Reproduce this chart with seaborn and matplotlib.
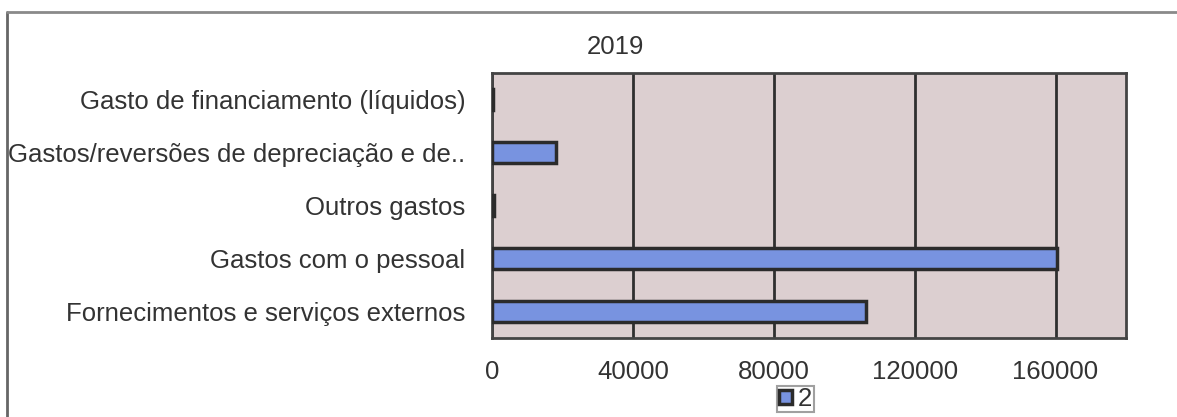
import pandas as pd
import matplotlib.pyplot as plt
import seaborn as sns
from matplotlib.lines import Line2D

# Data
categories = [
    "Gasto de financiamento (líquidos)",
    "Gastos/reversões de depreciação e de..",
    "Outros gastos",
    "Gastos com o pessoal",
    "Fornecimentos e serviços externos",
]
values = [300, 18200, 500, 160500, 106300]
series = ["2"] * len(categories)
x_ticks = [0, 40000, 80000, 120000, 160000]

df = pd.DataFrame({"Categoria": categories, "Valor": values, "Serie": series})

sns.set_style("white")
plt.rcParams["font.family"] = ["Liberation Sans", "DejaVu Sans"]
plt.rcParams["text.color"] = "#333333"

fig = plt.figure(figsize=(11.77, 4.17), dpi=100)
ax = fig.add_axes([492 / 1177, 1 - 338 / 417, (1126 - 492) / 1177, (338 - 73) / 417])

sns.barplot(data=df, y="Categoria", x="Valor", hue="Serie", orient="h",
            palette=["#7893e0"], saturation=1, width=0.38,
            edgecolor="#2b2b2b", linewidth=2.5, ax=ax, zorder=3)

ax.set_facecolor("#dccfd0")
ax.set_xlim(0, 180000)
ax.set_xticks(x_ticks)
ax.set_xticklabels([str(t) for t in x_ticks], fontsize=18.5, color="#333333")
ax.set_yticks(range(len(categories)))
ax.set_yticklabels(categories, fontsize=18.5, color="#333333")
ax.tick_params(axis="y", length=0, pad=19)
ax.tick_params(axis="x", length=6, width=1.5, color="#333333", pad=10)
ax.set_yticks([i - 0.5 for i in range(len(categories) + 1)], minor=True)
ax.tick_params(axis="y", which="minor", length=6, width=1.5, color="#333333")
ax.grid(axis="x", color="#2f2f2f", linewidth=2, zorder=1)
ax.set_axisbelow(True)
for s in ax.spines.values():
    s.set_color("#444444")
    s.set_linewidth(2)
ax.set_xlabel("")
ax.set_ylabel("")
ax.set_title("2019", fontsize=18.5, x=0.194, pad=14, color="#333333")

ax.legend(loc="upper left", bbox_to_anchor=(0.45, -0.18), fontsize=18.5,
          frameon=True, fancybox=False, edgecolor="#888888",
          handlelength=0.5, handleheight=0.5, handletextpad=0.25,
          borderpad=0.12, borderaxespad=0)
leg = ax.get_legend()
leg.get_frame().set_linewidth(1.5)
leg._legend_box.pad = 1
for t in leg.get_texts():
    t.set_color("#333333")

# Outer chart frame (left and top edges visible in the scan)
fig.add_artist(Line2D([7 / 1177, 7 / 1177], [0, 1 - 12 / 417],
                      transform=fig.transFigure, color="#666666", linewidth=2))
fig.add_artist(Line2D([7 / 1177, 1], [1 - 12 / 417, 1 - 12 / 417],
                      transform=fig.transFigure, color="#8a8a8a", linewidth=2))

plt.savefig("out.png", dpi=100)
